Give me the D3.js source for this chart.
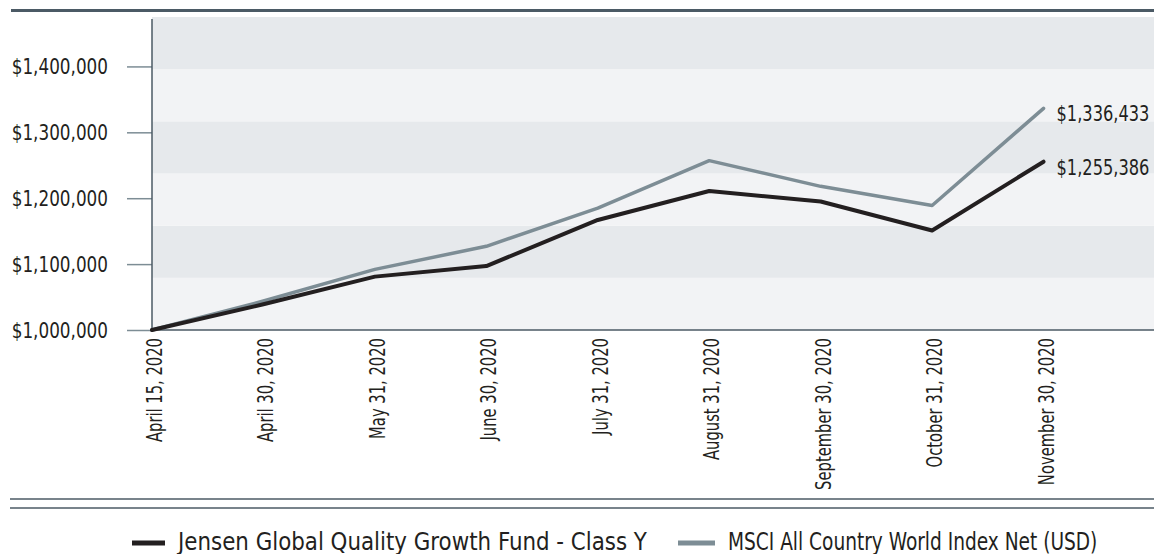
<!DOCTYPE html>
<html>
<head>
<meta charset="utf-8">
<script src="https://cdn.jsdelivr.net/npm/d3@7"></script>
<style>
  body { margin: 0; background: #fff; }
  svg text { font-family: "Liberation Sans Narrow", "DejaVu Sans Condensed", "Roboto", sans-serif; fill: #231f20; }
</style>
</head>
<body>
<svg id="chart" width="1154" height="554"></svg>
<script>
// data
var dates = ["April 15, 2020", "April 30, 2020", "May 31, 2020", "June 30, 2020", "July 31, 2020",
             "August 31, 2020", "September 30, 2020", "October 31, 2020", "November 30, 2020"];
var fundValues  = [1000000, 1039000, 1081000, 1097000, 1167000, 1211000, 1195000, 1151000, 1255386];
var indexValues = [1000000, 1044000, 1092000, 1127000, 1185000, 1257000, 1218000, 1189000, 1336433];
var yTicks = [1000000, 1100000, 1200000, 1300000, 1400000];
var seriesNames = ["Jensen Global Quality Growth Fund - Class Y", "MSCI All Country World Index Net (USD)"];
var seriesColors = ["#231f20", "#7d8d95"];

var svg = d3.select("#chart"),
    W = 1154,
    margin = {top: 17, left: 152, bottom: 330},
    slate = "#4b5a65";

// the reference uses a condensed face; squeeze the installed one to match
function squeeze(sel, k) {
    sel.each(function() {
        var w = this.getComputedTextLength();
        d3.select(this).attr("textLength", w * k).attr("lengthAdjust", "spacingAndGlyphs");
    });
}

var x = d3.scaleLinear()
    .domain([0, dates.length])
    .range([margin.left, 1155]);

var y = d3.scaleLinear()
    .domain([1000000, 1475000])
    .range([margin.bottom, margin.top]);

// alternating bands
var nBands = 6;
var bandEdges = d3.range(nBands + 1).map(function(i) { return 1000000 + i * 475000 / nBands; });
svg.append("g").selectAll("rect")
    .data(d3.range(nBands))
  .enter().append("rect")
    .attr("x", margin.left)
    .attr("width", W - margin.left)
    .attr("y", function(i) { return y(bandEdges[i + 1]); })
    .attr("height", function(i) { return y(bandEdges[i]) - y(bandEdges[i + 1]); })
    .attr("fill", function(i) { return (nBands - 1 - i) % 2 === 0 ? "#e6e9ec" : "#f2f3f5"; });

// top rule
svg.append("line")
    .attr("x1", 11).attr("x2", W)
    .attr("y1", 10.5).attr("y2", 10.5)
    .attr("stroke", slate).attr("stroke-width", 3);

// y axis
var yAxis = svg.append("g")
    .attr("transform", "translate(" + margin.left + ",0)")
    .call(d3.axisLeft(y).tickValues(yTicks).tickSize(25).tickPadding(19)
        .tickFormat(function(d) { return "$" + d3.format(",")(d); }));
yAxis.attr("font-family", null);
yAxis.select(".domain").remove();
yAxis.selectAll(".tick line").attr("stroke", "#7d8d95").attr("stroke-width", 1.5);
yAxis.selectAll(".tick text")
    .attr("font-size", 22)
    .attr("fill", "#231f20")
    .call(squeeze, 0.85);

svg.append("line")
    .attr("x1", margin.left).attr("x2", margin.left)
    .attr("y1", 19).attr("y2", margin.bottom)
    .attr("stroke", slate).attr("stroke-width", 1.5);

svg.append("line")
    .attr("x1", margin.left).attr("x2", W)
    .attr("y1", margin.bottom).attr("y2", margin.bottom)
    .attr("stroke", slate).attr("stroke-width", 1.5);

// x labels
svg.append("g").selectAll("text")
    .data(dates)
  .enter().append("text")
    .attr("transform", function(d, i) { return "translate(" + (x(i) + 10) + ",338) rotate(-90)"; })
    .attr("text-anchor", "end")
    .attr("font-size", 20.5)
    .text(function(d) { return d; })
    .call(squeeze, 0.8);

// lines
var line = d3.line()
    .x(function(d, i) { return x(i); })
    .y(function(d) { return y(d); });

[indexValues, fundValues].forEach(function(vals, k) {
    svg.append("path")
        .datum(vals)
        .attr("fill", "none")
        .attr("stroke", k === 0 ? seriesColors[1] : seriesColors[0])
        .attr("stroke-width", k === 0 ? 3.5 : 4)
        .attr("stroke-linejoin", "round")
        .attr("stroke-linecap", "round")
        .attr("d", line);
});

// end labels
[fundValues, indexValues].forEach(function(vals) {
    var last = vals.length - 1;
    svg.append("text")
        .attr("x", x(last) + 13)
        .attr("y", y(vals[last]) + 13)
        .attr("font-size", 22)
        .text("$" + d3.format(",")(vals[last]))
        .call(squeeze, 0.82);
});

// bottom double rule
[499, 508].forEach(function(yy) {
    svg.append("line")
        .attr("x1", 10).attr("x2", W)
        .attr("y1", yy).attr("y2", yy)
        .attr("stroke", slate).attr("stroke-width", 1.5);
});

// legend
var legendX = [132, 678],
    legendSqueeze = [0.99, 0.86];
var lg = svg.append("g").selectAll("g")
    .data(seriesNames)
  .enter().append("g")
    .attr("transform", function(d, i) { return "translate(" + legendX[i] + ",543)"; });
lg.append("rect")
    .attr("x", 0).attr("y", -2.5)
    .attr("width", function(d, i) { return i === 0 ? 33 : 37; })
    .attr("height", 5)
    .attr("fill", function(d, i) { return seriesColors[i]; });
lg.append("text")
    .attr("x", function(d, i) { return i === 0 ? 46 : 50; })
    .attr("y", 7)
    .attr("font-size", 24)
    .text(function(d) { return d; })
    .each(function(d, i) { d3.select(this).call(squeeze, legendSqueeze[i]); });
</script>
</body>
</html>
